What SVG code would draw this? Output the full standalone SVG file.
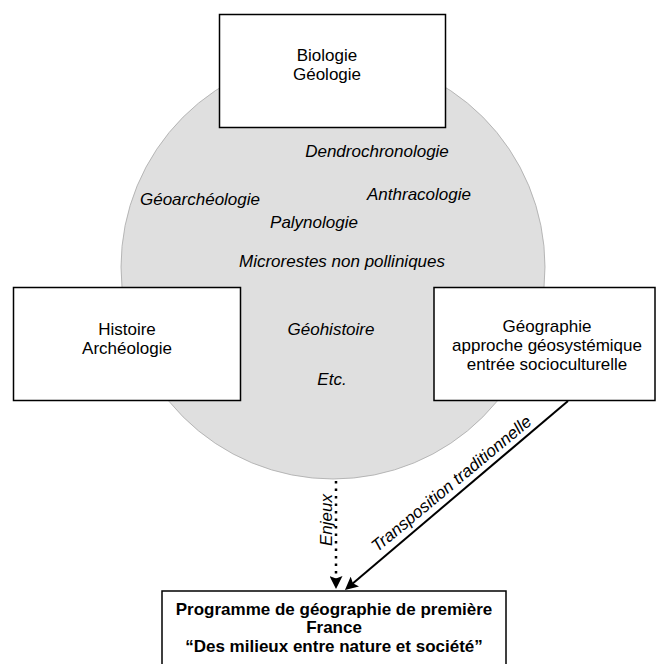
<svg xmlns="http://www.w3.org/2000/svg" width="656" height="664" viewBox="0 0 656 664">
<style>
.box{fill:#fff;stroke:#000;stroke-width:1.5}
.t{font-family:"Liberation Sans",Arial,sans-serif;font-size:17px;fill:#000;text-anchor:middle}
.i{font-style:italic}
.b{font-weight:bold}
.conn{fill:none;stroke:#000;stroke-width:2}
</style>
<defs>
<marker id="ah" viewBox="0 0 13 13" refX="9" refY="6.5" markerWidth="13" markerHeight="13" markerUnits="userSpaceOnUse" orient="auto">
<path d="M0,0 L13,6.5 L0,13 L2.5,6.5 z" fill="#000" stroke="none"/>
</marker>
</defs>
<rect width="656" height="664" fill="#fff"/>
<g id="field">
<circle cx="333" cy="267" r="212" fill="#dfdfdf" stroke="#a8a8a8" stroke-width="0.8"/>
<text class="t i" x="377" y="157">Dendrochronologie</text>
<text class="t i" x="200" y="205">Géoarchéologie</text>
<text class="t i" x="419" y="200">Anthracologie</text>
<text class="t i" x="314" y="228">Palynologie</text>
<text class="t i" x="342" y="267">Microrestes non polliniques</text>
<text class="t i" x="331" y="335">Géohistoire</text>
<text class="t i" x="332" y="385">Etc.</text>
</g>
<g id="connectors">
<line x1="336" y1="481" x2="336" y2="585" stroke="#000" stroke-width="2.5" stroke-dasharray="2.5 5" marker-end="url(#ah)"/>
<line class="conn" x1="568" y1="401" x2="348" y2="587.4" marker-end="url(#ah)"/>
<text class="t i" transform="translate(332,520) rotate(-90)">Enjeux</text>
<text class="t i" transform="translate(455,488) rotate(-39.7)">Transposition traditionnelle</text>
</g>
<g id="biologie">
<rect class="box" x="219.5" y="14.5" width="226" height="113"/>
<text class="t" x="327" y="61">Biologie</text>
<text class="t" x="327" y="79.5">Géologie</text>
</g>
<g id="histoire">
<rect class="box" x="13.5" y="287.5" width="227" height="113"/>
<text class="t" x="127" y="335">Histoire</text>
<text class="t" x="127" y="354">Archéologie</text>
</g>
<g id="geographie">
<rect class="box" x="434" y="287.5" width="221" height="113"/>
<text class="t" x="547" y="332">Géographie</text>
<text class="t" x="547" y="351">approche géosystémique</text>
<text class="t" x="547" y="370">entrée socioculturelle</text>
</g>
<g id="programme">
<rect class="box" x="162" y="591" width="344" height="80"/>
<text class="t b" x="334" y="614.5">Programme de géographie de première</text>
<text class="t b" x="334" y="633">France</text>
<text class="t b" x="334" y="651.5">“Des milieux entre nature et société”</text>
</g>
</svg>
